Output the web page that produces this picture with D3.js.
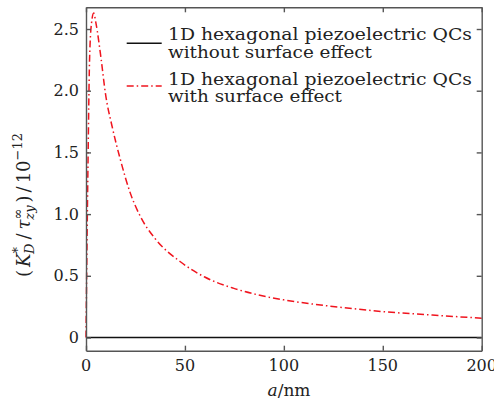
<!DOCTYPE html>
<html lang="en">
  <head>
    <meta charset="utf-8">
    <title>K_D vs a</title>
    <script src="https://d3js.org/d3.v7.min.js"></script>
    <style>
      body { margin: 0; background: #fff; overflow: hidden; }
      text { font-family: "DejaVu Serif", serif; fill: #222; }
    </style>
  </head>
  <body>
    <div id="chart"></div>
    <script type="text/javascript">
      // values
      var aValues = [0, 0.5, 1, 1.8, 2.8, 3.9, 5, 7.7, 9.8, 13.2, 17.4, 22.4, 27.5, 35, 47.7, 60, 74.4, 87, 100, 115, 128.4, 150, 175, 200];
      var withSurface = [0, 0.75, 1.4, 2.25, 2.55, 2.63, 2.55, 2.25, 1.98, 1.71, 1.44, 1.17, 0.98, 0.80, 0.614, 0.49, 0.40, 0.345, 0.305, 0.27, 0.245, 0.21, 0.182, 0.156];
      var withoutA = [0, 200];
      var withoutSurface = [0, 0];
      var xTicks = [0, 50, 100, 150, 200];
      var yTicks = [0, 0.5, 1.0, 1.5, 2.0, 2.5];
      var legendLabels = [
        ["1D hexagonal piezoelectric QCs", "without surface effect"],
        ["1D hexagonal piezoelectric QCs", "with surface effect"]
      ];

      var width = 494, height = 401;
      var plotL = 86, plotR = 481.7, plotT = 7.3, plotB = 350.7;

      var svg = d3.select('#chart')
        .append('svg')
        .attr('width', width)
        .attr('height', height);

      var xScale = d3.scaleLinear().domain([0, 200]).range([plotL, plotR]);
      var yScale = d3.scaleLinear().domain([-0.107, 2.676]).range([plotB, plotT]);

      // curves
      var line = d3.line()
        .x(function(d) { return xScale(d[0]); })
        .y(function(d) { return yScale(d[1]); });

      svg.append('path')
        .datum(withoutA.map(function(a, i) { return [a, withoutSurface[i]]; }))
        .attr('d', line)
        .attr('fill', 'none')
        .attr('stroke', '#111')
        .attr('stroke-width', 1.6);

      svg.append('path')
        .datum(aValues.map(function(a, i) { return [a, withSurface[i]]; }))
        .attr('d', line.curve(d3.curveMonotoneX))
        .attr('fill', 'none')
        .attr('stroke', '#f0141e')
        .attr('stroke-width', 1.5)
        .attr('stroke-dasharray', '7,3,1.5,3');

      // frame with inward ticks on all sides
      var frameColor = '#555';
      var styleFrame = function(g) {
        g.selectAll('line, path').attr('stroke', frameColor).attr('stroke-width', 1.4);
      };
      svg.append('g')
        .attr('transform', 'translate(0,' + plotB + ')')
        .call(d3.axisBottom(xScale).tickValues(xTicks).tickSizeInner(-5).tickSizeOuter(0).tickFormat(''))
        .call(styleFrame);
      svg.append('g')
        .attr('transform', 'translate(0,' + plotT + ')')
        .call(d3.axisTop(xScale).tickValues(xTicks).tickSizeInner(-5).tickSizeOuter(0).tickFormat(''))
        .call(styleFrame);
      svg.append('g')
        .attr('transform', 'translate(' + plotL + ',0)')
        .call(d3.axisLeft(yScale).tickValues(yTicks).tickSizeInner(-5).tickSizeOuter(0).tickFormat(''))
        .call(styleFrame);
      svg.append('g')
        .attr('transform', 'translate(' + plotR + ',0)')
        .call(d3.axisRight(yScale).tickValues(yTicks).tickSizeInner(-5).tickSizeOuter(0).tickFormat(''))
        .call(styleFrame);

      // tick labels
      svg.selectAll('.xlab')
        .data(xTicks)
        .enter()
        .append('text')
          .attr('x', function(d) { return xScale(d); })
          .attr('y', 371)
          .attr('text-anchor', 'middle')
          .style('font-size', '16px')
          .text(function(d) { return d; });

      svg.selectAll('.ylab')
        .data(yTicks)
        .enter()
        .append('text')
          .attr('x', 79)
          .attr('y', function(d) { return yScale(d) + 5.5; })
          .attr('text-anchor', 'end')
          .style('font-size', '16px')
          .text(function(d) { return d === 0 ? '0' : d.toFixed(1); });

      // x axis title
      var xt = svg.append('text')
        .attr('x', 289)
        .attr('y', 396)
        .attr('text-anchor', 'middle')
        .style('font-size', '17px');
      xt.append('tspan').style('font-style', 'italic').text('a');
      xt.append('tspan').text('/nm');

      // y axis title
      var yt = svg.append('text')
        .attr('transform', 'translate(30,205)rotate(-90)')
        .attr('text-anchor', 'middle')
        .style('font-size', '18px');
      yt.append('tspan').text('(');
      yt.append('tspan').attr('dx', 3).style('font-style', 'italic').text('K');
      yt.append('tspan').attr('dy', -8).style('font-size', '13px').text('*');
      yt.append('tspan').attr('dy', 12).attr('dx', -7).style('font-size', '13px').style('font-style', 'italic').text('D');
      yt.append('tspan').attr('dy', -4).attr('dx', 4).text('/');
      yt.append('tspan').attr('dx', 4).style('font-style', 'italic').text('τ');
      yt.append('tspan').attr('dy', -8).style('font-size', '13px').text('∞');
      yt.append('tspan').attr('dy', 12).attr('dx', -11).style('font-size', '13px').style('font-style', 'italic').text('zy');
      yt.append('tspan').attr('dy', -4).attr('dx', 3).text(')');
      yt.append('tspan').attr('dx', 3).text('/');
      yt.append('tspan').attr('dx', 3).text('10');
      yt.append('tspan').attr('dy', -8).style('font-size', '13px').text('−12');

      // legend
      var legendColors = ['#111', '#f0141e'];
      var legendDash = [null, '7,3,1.5,3'];
      var legendY = [43.3, 86];
      var legendBase = [[40, 58], [84.5, 102]];
      var legendWidths = [[304, 204], [304, 174]];

      legendLabels.forEach(function(lines, i) {
        svg.append('line')
          .attr('x1', 126.7).attr('x2', 161.7)
          .attr('y1', legendY[i]).attr('y2', legendY[i])
          .attr('stroke', legendColors[i])
          .attr('stroke-width', 1.6)
          .attr('stroke-dasharray', legendDash[i]);
        lines.forEach(function(t, j) {
          svg.append('text')
            .attr('x', 168)
            .attr('y', legendBase[i][j])
            .attr('textLength', legendWidths[i][j])
            .attr('lengthAdjust', 'spacingAndGlyphs')
            .style('font-size', '16px')
            .text(t);
        });
      });
    </script>
  </body>
</html>
